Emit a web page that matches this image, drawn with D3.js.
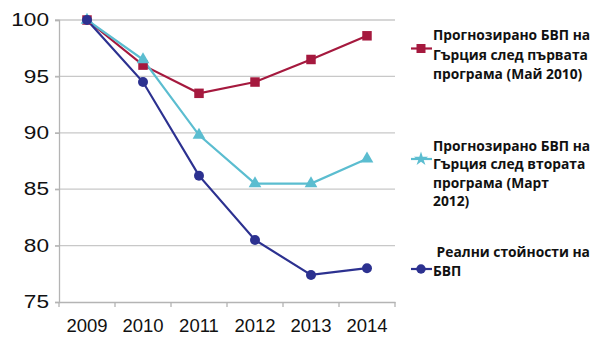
<!DOCTYPE html>
<html><head><meta charset="utf-8">
<script src="https://cdnjs.cloudflare.com/ajax/libs/d3/7.8.5/d3.min.js"></script>
<style>
html,body{margin:0;padding:0;background:#fff;}
svg{display:block;}
</style></head>
<body>
<svg id="chart" width="601" height="349"></svg>
<script>
const years = ["2009","2010","2011","2012","2013","2014"];
const yTicks = [75, 80, 85, 90, 95, 100];
const firstProgram = [100, 96, 93.5, 94.5, 96.5, 98.6];
const secondProgram = [100, 96.5, 89.8, 85.5, 85.5, 87.7];
const actualGDP = [100, 94.5, 86.2, 80.5, 77.4, 78.0];
const legend1 = ["Прогнозирано БВП на", "Гърция след първата", "програма (Май 2010)"];
const legend2 = ["Прогнозирано БВП на", "Гърция след втората", "програма (Март", "2012)"];
const legend3 = [" Реални стойности на", "БВП"];

const svg = d3.select("#chart");
const x = d3.scaleBand().domain(years).range([59, 395]).padding(0);
const y = d3.scaleLinear().domain([75, 100]).range([302, 20]);

// gridlines
svg.append("g").selectAll("line").data(yTicks.filter(d => d !== 75)).join("line")
  .attr("x1", 55).attr("x2", 395)
  .attr("y1", d => y(d)).attr("y2", d => y(d))
  .attr("stroke", "#c8c8c8").attr("stroke-width", 1.3);

// y axis
const yAxis = svg.append("g").attr("transform", "translate(59,0)")
  .call(d3.axisLeft(y).tickValues(yTicks).tickSize(4).tickPadding(6).tickFormat(d3.format("d")));
yAxis.select(".domain").attr("stroke", "#b4b4b4").attr("stroke-width", 1.3);
yAxis.selectAll(".tick line").attr("stroke", "#b4b4b4").attr("stroke-width", 1.3);
yAxis.selectAll(".tick text")
  .attr("font-family", "'Liberation Sans', Arial, sans-serif")
  .attr("font-size", 17.5).attr("fill", "#111")
  .attr("textLength", d => String(d).length * 12.6)
  .attr("lengthAdjust", "spacingAndGlyphs");

// x axis
const xAxis = svg.append("g").attr("transform", "translate(0,302)")
  .call(d3.axisBottom(x).tickSize(0).tickPadding(0));
xAxis.select(".domain").attr("stroke", "#b4b4b4").attr("stroke-width", 1.3);
xAxis.selectAll(".tick text")
  .attr("font-family", "'Liberation Sans', Arial, sans-serif")
  .attr("font-size", 18.5).attr("fill", "#111").attr("dy", null).attr("y", 30);
// ticks between categories
svg.append("g").selectAll("line").data(years.concat(["end"])).join("line")
  .attr("x1", (d, i) => 59 + i * x.bandwidth()).attr("x2", (d, i) => 59 + i * x.bandwidth())
  .attr("y1", 302).attr("y2", 307)
  .attr("stroke", "#b4b4b4").attr("stroke-width", 1.3);

const cx = d => x(d) + x.bandwidth() / 2;
const line = d3.line().x((d, i) => cx(years[i])).y(d => y(d));

const series = [
  {vals: firstProgram, color: "#a5193e", sym: d3.symbolSquare, size: 90},
  {vals: secondProgram, color: "#5bbdd0", sym: d3.symbolTriangle, size: 70},
  {vals: actualGDP, color: "#2c3190", sym: d3.symbolCircle, size: 78}
];
series.forEach(s => {
  svg.append("path").datum(s.vals).attr("d", line)
    .attr("fill", "none").attr("stroke", s.color).attr("stroke-width", 2.2);
});
series.forEach(s => {
  svg.append("g").selectAll("path").data(s.vals).join("path")
    .attr("transform", (d, i) => `translate(${cx(years[i])},${y(d)})`)
    .attr("d", d3.symbol().type(s.sym).size(s.size))
    .attr("fill", s.color);
});

// legend
const legends = [
  {lines: legend1, base: [40, 59.5, 78.5], my: 48.5, s: series[0]},
  {lines: legend2, base: [150.5, 169, 187.5, 206], my: 159, s: series[1]},
  {lines: legend3, base: [256.5, 275.5], my: 269, s: series[2]}
];
legends.forEach(L => {
  const g = svg.append("g");
  g.append("line").attr("x1", 411).attr("x2", 432).attr("y1", L.my).attr("y2", L.my)
    .attr("stroke", L.s.color).attr("stroke-width", 2.2);
  g.append("path").attr("transform", `translate(421,${L.my})`)
    .attr("d", d3.symbol().type(L.s.sym === d3.symbolTriangle ? d3.symbolStar : L.s.sym).size(L.s.size * 0.9))
    .attr("fill", L.s.color);
  g.selectAll("text").data(L.lines).join("text")
    .attr("x", 433).attr("y", (d, i) => L.base[i])
    .attr("font-family", "'Open Sans', 'Noto Sans', sans-serif")
    .attr("font-weight", "bold").attr("font-size", 13.8).attr("fill", "#111")
    .style("white-space", "pre")
    .text(d => d);
});
</script>
</body></html>
